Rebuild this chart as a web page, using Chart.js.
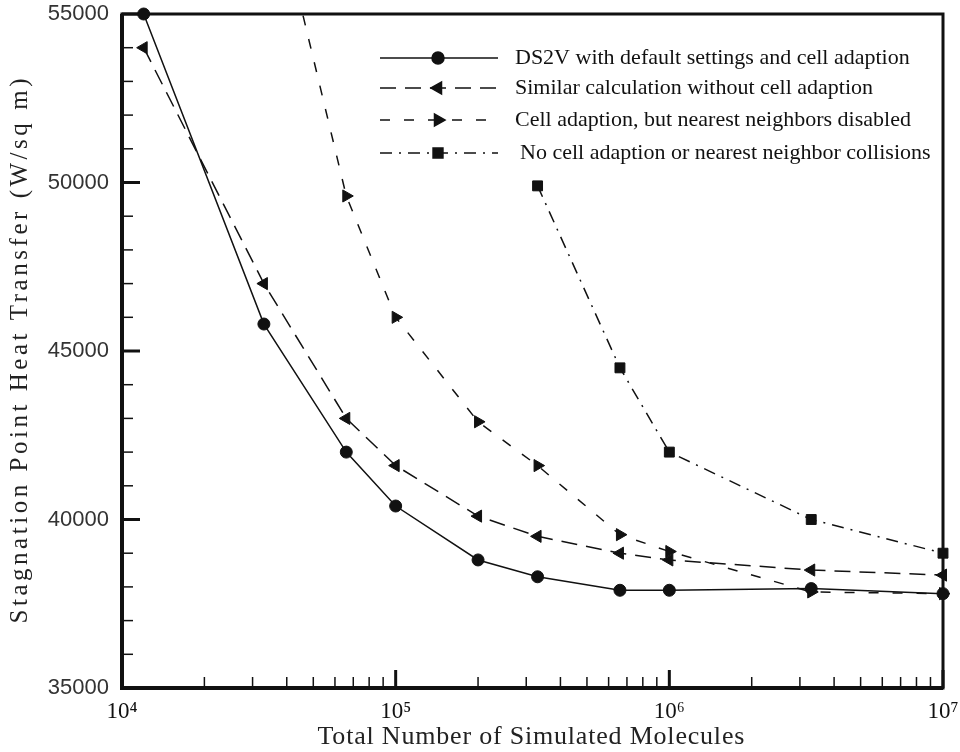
<!DOCTYPE html>
<html>
<head>
<meta charset="utf-8">
<script src="https://cdn.jsdelivr.net/npm/chart.js@4.4.0/dist/chart.umd.min.js"></script>
<style>
  html, body { margin: 0; padding: 0; background: #fff; }
</style>
</head>
<body>
<canvas id="chart" width="960" height="752"></canvas>
<script>
// --- data ---
const molecules = [12000, 33000, 66000, 100000, 200000, 330000, 660000, 1000000, 3300000, 10000000];
const ds2vDefault = [55000, 45800, 42000, 40400, 38800, 38300, 37900, 37900, 37950, 37800];
const noCellAdaption = [54000, 47000, 43000, 41600, 40100, 39500, 39000, 38800, 38500, 38350];
const noNearestNeighbor = [null, 59800, 49600, 46000, 42900, 41600, 39550, 39050, 37850, 37800];
const noAdaptNoNearest = [null, null, null, null, null, 49900, 44500, 42000, 40000, 39000];

const seriesLabels = [
  'DS2V with default settings and cell adaption',
  'Similar calculation without cell adaption',
  'Cell adaption, but nearest neighbors disabled',
  'No cell adaption or nearest neighbor collisions'
];

const xDecades = [1e4, 1e5, 1e6, 1e7];
const xDecadeLabels = ['10\u2074', '10\u2075', '10\u2076', '10\u2077'];
const yMin = 35000, yMax = 55000, yMajorStep = 5000, yMinorStep = 1000;
const xTitle = 'Total Number of Simulated Molecules';
const yTitle = 'Stagnation Point Heat Transfer (W/sq m)';

const toPoints = (vals) => molecules.map((m, i) => ({ x: m, y: vals[i] }));

// all x tick positions: decades plus 2..9 in between
const xTickValues = [];
xDecades.forEach((d, i) => {
  xTickValues.push(d);
  if (i < xDecades.length - 1) for (let k = 2; k <= 9; k++) xTickValues.push(d * k);
});

const INK = '#111';

// spread text out to a given width (the original lettering is wide)
function spacedText(ctx, text, x, y, width) {
  ctx.letterSpacing = '0px';
  const w = ctx.measureText(text).width;
  const gap = Math.max(0, (width - w) / (text.length - 1));
  ctx.letterSpacing = gap.toFixed(2) + 'px';
  ctx.textAlign = 'left';
  ctx.fillText(text, x - width / 2, y);
  ctx.letterSpacing = '0px';
}

// frame + inward tick marks
const frameTicks = {
  id: 'frameTicks',
  beforeDatasetsDraw(chart) {
    const { ctx, chartArea: a, scales } = chart;
    ctx.save();
    ctx.strokeStyle = INK;
    scales.y.ticks.forEach(t => {
      const y = scales.y.getPixelForValue(t.value);
      const major = t.value % yMajorStep === 0;
      ctx.lineWidth = major ? 3 : 1.5;
      ctx.beginPath();
      ctx.moveTo(a.left, y);
      ctx.lineTo(a.left + (major ? 18 : 11), y);
      ctx.stroke();
    });
    scales.x.ticks.forEach(t => {
      const x = scales.x.getPixelForValue(t.value);
      const major = xDecades.includes(t.value);
      ctx.lineWidth = major ? 3 : 1.5;
      ctx.beginPath();
      ctx.moveTo(x, a.bottom);
      ctx.lineTo(x, a.bottom - (major ? 18 : 11));
      ctx.stroke();
    });
    ctx.lineWidth = 3;
    ctx.strokeRect(a.left, a.top, a.right - a.left, a.bottom - a.top);
    ctx.lineWidth = 4;
    ctx.beginPath();
    ctx.moveTo(a.left, a.top);
    ctx.lineTo(a.left, a.bottom);
    ctx.lineTo(a.right, a.bottom);
    ctx.stroke();
    ctx.restore();
  }
};

// legend inside the plot + axis titles
const innerLegend = {
  id: 'innerLegend',
  afterDatasetsDraw(chart) {
    const { ctx } = chart;
    const rows = [58, 88, 120, 153];
    ctx.save();
    chart.data.datasets.forEach((ds, i) => {
      const y = rows[i];
      ctx.strokeStyle = INK;
      ctx.fillStyle = INK;
      ctx.lineWidth = 1.5;
      ctx.setLineDash(ds.borderDash || []);
      ctx.beginPath();
      ctx.moveTo(380, y);
      ctx.lineTo(498, y);
      ctx.stroke();
      ctx.setLineDash([]);
      Chart.helpers.drawPoint(ctx, {
        pointStyle: ds.pointStyle, rotation: ds.pointRotation || 0,
        radius: ds.pointRadius, borderWidth: 1
      }, 438, y);
      ctx.font = '22px "Liberation Serif"';
      ctx.textBaseline = 'middle';
      ctx.textAlign = 'left';
      ctx.fillText(ds.label, i === 3 ? 520 : 515, y);
    });

    // axis titles
    ctx.fillStyle = '#222';
    ctx.textBaseline = 'middle';
    ctx.font = '26px "Liberation Serif"';
    spacedText(ctx, xTitle, 531, 737, 427);
    ctx.save();
    ctx.translate(20, 351);
    ctx.rotate(-Math.PI / 2);
    ctx.font = '25px "Liberation Serif"';
    spacedText(ctx, yTitle, 0, 0, 545);
    ctx.restore();
    ctx.restore();
  }
};

const base = {
  showLine: true,
  borderColor: INK,
  backgroundColor: INK,
  pointBackgroundColor: INK,
  pointBorderColor: INK,
  borderWidth: 1.5,
  pointBorderWidth: 1,
  tension: 0,
  spanGaps: false
};

new Chart(document.getElementById('chart'), {
  type: 'scatter',
  data: {
    datasets: [
      { ...base, label: seriesLabels[0], data: toPoints(ds2vDefault),
        pointStyle: 'circle', pointRadius: 6, borderDash: [], clip: false },
      { ...base, label: seriesLabels[1], data: toPoints(noCellAdaption),
        pointStyle: 'triangle', pointRotation: 270, pointRadius: 7, borderDash: [16, 9], clip: false },
      { ...base, label: seriesLabels[2], data: toPoints(noNearestNeighbor),
        pointStyle: 'triangle', pointRotation: 90, pointRadius: 7, borderDash: [10, 14],
        clip: { left: 10, top: 0, right: 10, bottom: 10 } },
      { ...base, label: seriesLabels[3], data: toPoints(noAdaptNoNearest),
        pointStyle: 'rect', pointRadius: 7, borderDash: [12, 7, 2, 7], clip: false }
    ]
  },
  options: {
    responsive: false,
    animation: false,
    devicePixelRatio: 1,
    layout: { padding: { top: 14, right: 17, left: 0, bottom: 0 } },
    plugins: { legend: { display: false }, tooltip: { enabled: false } },
    scales: {
      x: {
        type: 'logarithmic',
        min: 1e4,
        max: 1e7,
        grid: { display: false, drawTicks: false },
        border: { display: false },
        afterBuildTicks: (scale) => { scale.ticks = xTickValues.map(v => ({ value: v })); },
        afterFit: (scale) => {
          scale.height = 64;
          scale.paddingLeft = 0; scale.paddingRight = 0;
        },
        ticks: {
          autoSkip: false,
          maxRotation: 0,
          padding: 10,
          color: INK,
          font: { family: 'Liberation Serif', size: 23 },
          callback: (v) => {
            const i = xDecades.indexOf(v);
            return i >= 0 ? xDecadeLabels[i] : '';
          }
        },
        title: { display: false }
      },
      y: {
        min: yMin,
        max: yMax,
        grid: { display: false, drawTicks: false },
        border: { display: false },
        afterFit: (scale) => {
          scale.width = 122;
          scale.paddingTop = 0; scale.paddingBottom = 0;
        },
        ticks: {
          stepSize: yMinorStep,
          autoSkip: false,
          padding: 13,
          color: '#333',
          font: { family: 'Liberation Sans', size: 22 },
          callback: (v) => (v % yMajorStep === 0 ? String(v) : '')
        },
        title: { display: false }
      }
    }
  },
  plugins: [frameTicks, innerLegend]
});
</script>
</body>
</html>
